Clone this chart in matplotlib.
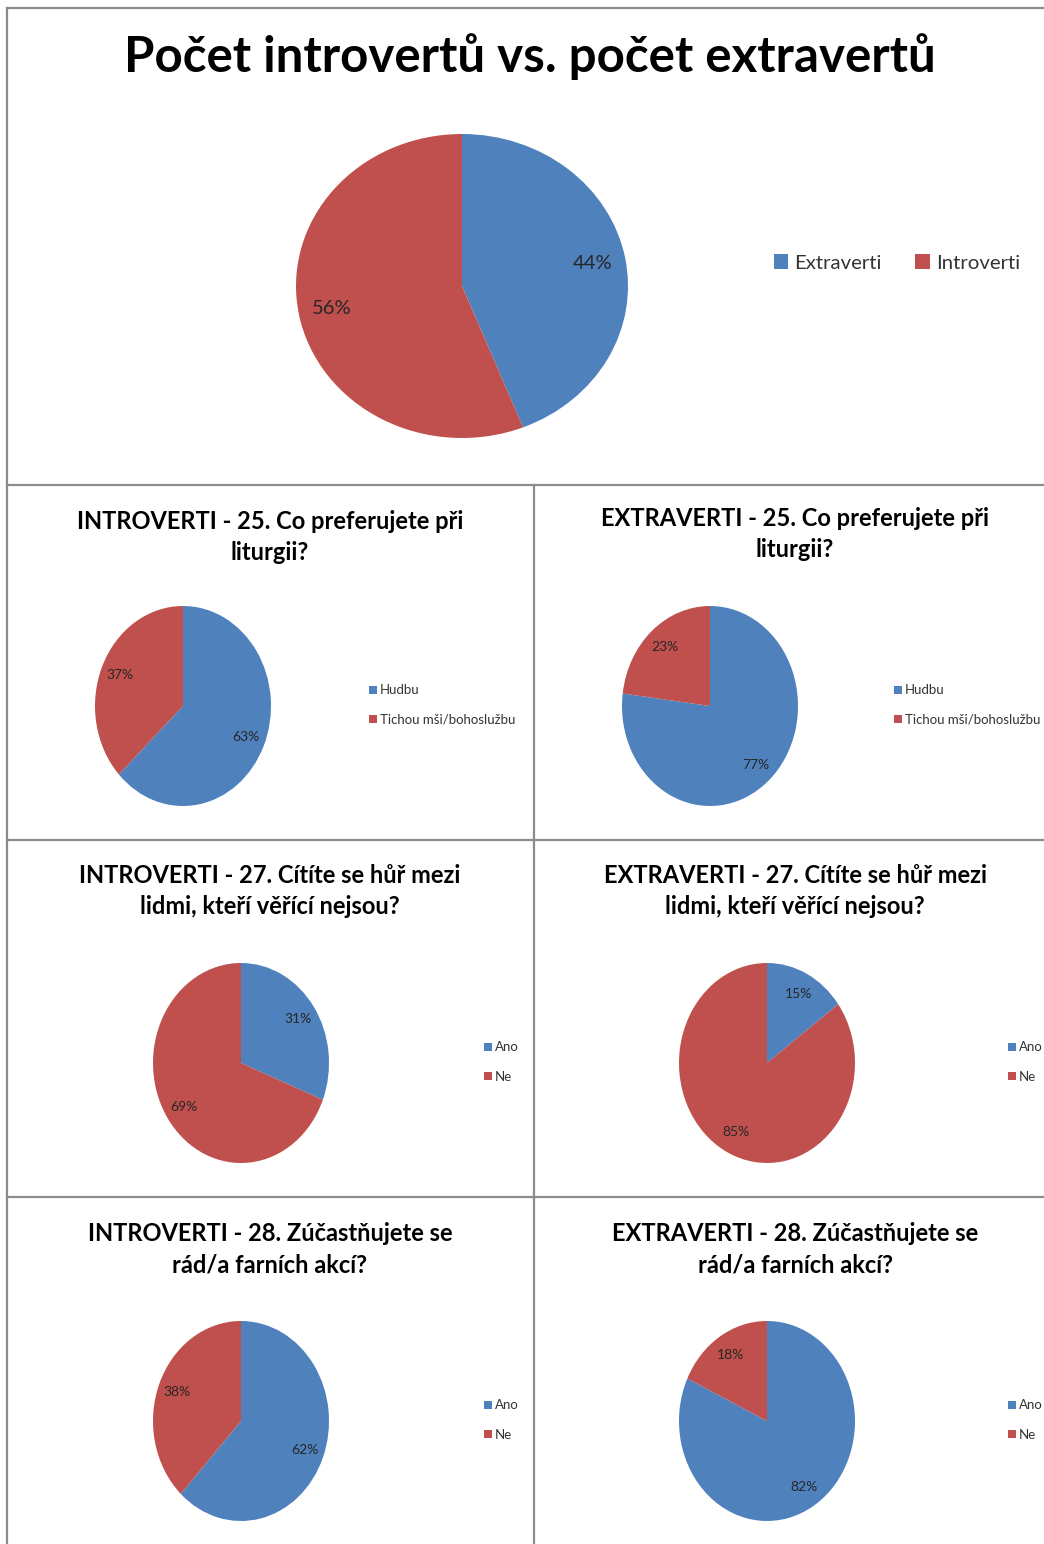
import matplotlib
matplotlib.use('Agg')
import matplotlib.pyplot as plt
from matplotlib.lines import Line2D

plt.rcParams['font.family'] = ['Lato', 'DejaVu Sans']

W, H = 1044, 1544

BLUE = '#4F81BD'
RED = '#C0504D'
GRID = '#8c8c8c'
TXT = '#262626'

# data
top_title = 'Počet introvertů vs. počet extravertů'
top_labels = ['Extraverti', 'Introverti']
top_values = [44, 56]

q25_labels = ['Hudbu', 'Tichou mši/bohoslužbu']
yesno_labels = ['Ano', 'Ne']

intro_q25 = [63, 37]
extra_q25 = [77, 23]
intro_q27 = [31, 69]
extra_q27 = [15, 85]
intro_q28 = [62, 38]
extra_q28 = [82, 18]

titles = [
    'INTROVERTI - 25. Co preferujete při\nliturgii?',
    'EXTRAVERTI - 25. Co preferujete při\nliturgii?',
    'INTROVERTI - 27. Cítíte se hůř mezi\nlidmi, kteří věřící nejsou?',
    'EXTRAVERTI - 27. Cítíte se hůř mezi\nlidmi, kteří věřící nejsou?',
    'INTROVERTI - 28. Zúčastňujete se\nrád/a farních akcí?',
    'EXTRAVERTI - 28. Zúčastňujete se\nrád/a farních akcí?',
]
small_values = [intro_q25, extra_q25, intro_q27, extra_q27, intro_q28, extra_q28]
small_labels = [q25_labels, q25_labels, yesno_labels, yesno_labels,
                yesno_labels, yesno_labels]


def fx(x):
    return x / W


def fy(y):
    return 1 - y / H


def pie_axes(fig, cx, cy, rx, ry):
    ax = fig.add_axes([fx(cx - rx), fy(cy + ry), 2 * rx / W, 2 * ry / H])
    return ax


def draw_pie(ax, values, pct_size, pct_dist=0.78):
    wedges, _, autotexts = ax.pie(
        values, colors=[BLUE, RED], startangle=90, counterclock=False,
        autopct='%.0f%%', pctdistance=pct_dist,
        wedgeprops=dict(linewidth=0),
        textprops=dict(color=TXT, fontsize=pct_size))
    ax.set_aspect('auto')
    ax.set_xlim(-1, 1)
    ax.set_ylim(-1, 1)
    return wedges


fig = plt.figure(figsize=(W / 100, H / 100), dpi=100)

# panel borders
lines = [
    (7, 8, W, 8), (7, 8, 7, H),
    (7, 485, W, 485), (7, 840, W, 840), (7, 1197, W, 1197),
    (534, 485, 534, H),
]
for x0, y0, x1, y1 in lines:
    fig.add_artist(Line2D([fx(x0), fx(x1)], [fy(y0), fy(y1)],
                          transform=fig.transFigure, color=GRID, lw=1.6))

# top chart
fig.text(fx(530), fy(57), top_title, ha='center', va='center',
         fontsize=35.5, fontweight='bold', color='black')
ax = pie_axes(fig, 462, 286, 166, 152)
wedges = draw_pie(ax, top_values, 14.5, 0.8)
fig.legend(wedges, top_labels, loc='center left',
           bbox_to_anchor=(fx(774), fy(263)), bbox_transform=fig.transFigure,
           ncol=2, frameon=False, fontsize=14.7, handlelength=0.7,
           handleheight=0.7, handletextpad=0.3, columnspacing=1.65,
           borderpad=0, borderaxespad=0, labelcolor='#333333')

# small charts
row_cy = [706, 1063, 1421]
title_y = [537, 891, 1249]
title_x = [270, 795]

for i, (vals, labs, title) in enumerate(zip(small_values, small_labels, titles)):
    r, c = divmod(i, 2)
    cx = [183, 710][c] if r == 0 else [241, 767][c]
    cy = row_cy[r]
    fig.text(fx(title_x[c]), fy(title_y[r] - (3 if c == 1 and r == 0 else 0)),
             title, ha='center', va='center', fontsize=17, fontweight='bold',
             color='black', linespacing=1.45)
    ax = pie_axes(fig, cx, cy, 88, 100)
    wedges = draw_pie(ax, vals, 10)
    lx = [369, 894][c] if r == 0 else [484, 1008][c]
    fig.legend(wedges, labs, loc='center left',
               bbox_to_anchor=(fx(lx), fy(cy - 1)),
               bbox_transform=fig.transFigure, frameon=False, fontsize=9.5,
               handlelength=0.6, handleheight=0.6, handletextpad=0.25,
               labelspacing=1.3, borderpad=0, borderaxespad=0,
               labelcolor='#333333')

fig.savefig('out.png', dpi=100)
